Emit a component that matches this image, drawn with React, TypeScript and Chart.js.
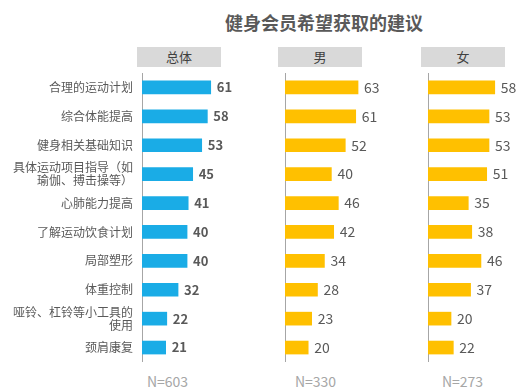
import React, { useEffect, useRef } from 'react';
import { Chart, registerables } from 'chart.js';

Chart.register(...registerables);

const categories: (string | string[])[] = [
  '合理的运动计划',
  '综合体能提高',
  '健身相关基础知识',
  ['具体运动项目指导（如', '瑜伽、搏击操等）'],
  '心肺能力提高',
  '了解运动饮食计划',
  '局部塑形',
  '体重控制',
  ['哑铃、杠铃等小工具的', '使用'],
  '颈肩康复',
];

const totalValues = [61, 58, 53, 45, 41, 40, 40, 32, 22, 21];
const maleValues = [63, 61, 52, 40, 46, 42, 34, 28, 23, 20];
const femaleValues = [58, 53, 53, 51, 35, 38, 46, 37, 20, 22];

const chartTitle = '健身会员希望获取的建议';
const panelTitles = ['总体', '男', '女'];
const sampleLabels = ['N=603', 'N=330', 'N=273'];

const CJK = '"Noto Sans CJK SC", "Microsoft YaHei", sans-serif';

type PanelProps = {
  values: number[];
  color: string;
  showLabels: boolean;
  left: number;
  axisWidth: number;
  areaWidth: number;
  padRight: number;
  max: number;
  boldValues: boolean;
};

const TOP = 73;
const HEIGHT = 289;

function Panel(props: PanelProps) {
  const ref = useRef<HTMLCanvasElement | null>(null);
  const { values, color, showLabels, left, axisWidth, areaWidth, padRight, max, boldValues } = props;
  const width = axisWidth + areaWidth + padRight;

  useEffect(() => {
    if (!ref.current) return;
    const valuePlugin = {
      id: 'valueLabels',
      afterDatasetsDraw(chart: any) {
        const ctx = chart.ctx;
        const meta = chart.getDatasetMeta(0);
        const data = chart.data.datasets[0].data as number[];
        ctx.save();
        ctx.fillStyle = '#595959';
        ctx.font = `${boldValues ? 'bold 13px' : '14px'} ${CJK}`;
        ctx.textAlign = 'left';
        ctx.textBaseline = 'middle';
        meta.data.forEach((bar: any, i: number) => {
          ctx.fillText(String(data[i]), bar.x + 6, bar.y);
        });
        ctx.restore();
      },
    };
    const chart = new Chart(ref.current, {
      type: 'bar',
      data: {
        labels: categories as any,
        datasets: [
          {
            data: values,
            backgroundColor: color,
            barThickness: 13,
          },
        ],
      },
      options: {
        indexAxis: 'y',
        animation: false,
        responsive: false,
        maintainAspectRatio: false,
        layout: { padding: { left: 0, right: padRight, top: 0, bottom: 0 } },
        plugins: {
          legend: { display: false },
          tooltip: { enabled: false },
          title: { display: false },
        },
        scales: {
          x: { display: false, min: 0, max },
          y: {
            display: true,
            grid: { display: false, drawTicks: false },
            border: { display: true, color: '#A6A6A6', width: 1 },
            ticks: {
              display: showLabels,
              padding: 9,
              color: '#595959',
              font: { family: CJK, size: 12, lineHeight: 1.05 },
            },
            afterFit: (s: any) => {
              s.width = axisWidth;
              s.paddingTop = 0;
              s.paddingBottom = 0;
            },
          },
        },
      },
      plugins: [valuePlugin],
    });
    return () => chart.destroy();
  }, []);

  return (
    <canvas
      ref={ref}
      width={width}
      height={HEIGHT}
      style={{ position: 'absolute', left, top: TOP, width, height: HEIGHT }}
    />
  );
}

const boxStyle = (left: number): React.CSSProperties => ({
  position: 'absolute',
  left,
  top: 47,
  width: 84,
  height: 20,
  background: '#D9D9D9',
  color: '#404040',
  fontFamily: CJK,
  fontSize: 13,
  lineHeight: '20px',
  textAlign: 'center',
});

const nStyle = (cx: number): React.CSSProperties => ({
  position: 'absolute',
  left: cx,
  top: 381,
  transform: 'translate(-50%, -50%)',
  color: '#A6A6A6',
  fontFamily: CJK,
  fontSize: 14,
  whiteSpace: 'nowrap',
});

export default function App() {
  return (
    <div
      style={{
        position: 'fixed',
        left: 0,
        top: 0,
        width: 522,
        height: 387,
        overflow: 'hidden',
        background: '#FFFFFF',
      }}
    >
      <div
        style={{
          position: 'absolute',
          left: 324,
          top: 22,
          transform: 'translate(-50%, -50%)',
          color: '#595959',
          fontFamily: CJK,
          fontWeight: 'bold',
          fontSize: 18,
          whiteSpace: 'nowrap',
        }}
      >
        {chartTitle}
      </div>
      <div style={boxStyle(137)}>{panelTitles[0]}</div>
      <div style={boxStyle(278)}>{panelTitles[1]}</div>
      <div style={boxStyle(421)}>{panelTitles[2]}</div>

      <Panel values={totalValues} color="#1AACE6" showLabels={true} left={0} axisWidth={142} areaWidth={80} padRight={30} max={71} boldValues={true} />
      <Panel values={maleValues} color="#FFC000" showLabels={false} left={281} axisWidth={4} areaWidth={80} padRight={30} max={69} boldValues={false} />
      <Panel values={femaleValues} color="#FFC000" showLabels={false} left={424} axisWidth={4} areaWidth={80} padRight={14} max={69.5} boldValues={false} />

      <div style={nStyle(167.5)}>{sampleLabels[0]}</div>
      <div style={nStyle(315.5)}>{sampleLabels[1]}</div>
      <div style={nStyle(462.5)}>{sampleLabels[2]}</div>
    </div>
  );
}
